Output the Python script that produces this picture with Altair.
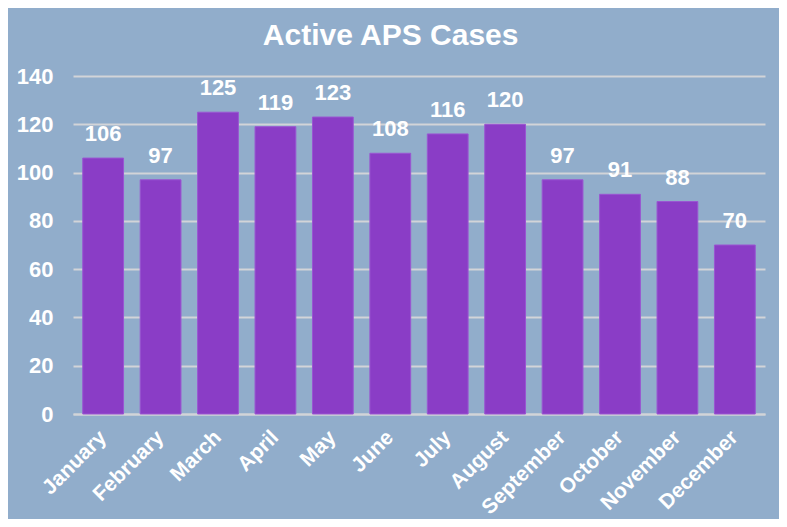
import altair as alt
import pandas as pd

months = ["January", "February", "March", "April", "May", "June", "July",
          "August", "September", "October", "November", "December"]
cases = [106, 97, 125, 119, 123, 108, 116, 120, 97, 91, 88, 70]
y_ticks = [0, 20, 40, 60, 80, 100, 120, 140]

df = pd.DataFrame({"month": months, "cases": cases})

FONT = "Liberation Sans"
BG = "#91ADCB"
BAR = "#8A3DC6"
WHITE = "#FFFFFF"
GRID = "#D2D4D8"

x = alt.X("month:N", sort=months, title=None,
          scale=alt.Scale(paddingInner=0.29, paddingOuter=0.17),
          axis=alt.Axis(labelAngle=-45, labelAlign="right", labelBaseline="middle",
                        labelFont=FONT, labelFontSize=21, labelFontWeight="bold",
                        labelColor=WHITE, labelPadding=20, ticks=False,
                        domain=True, domainColor=GRID, domainWidth=2, grid=False))
y = alt.Y("cases:Q", title=None,
          scale=alt.Scale(domain=[0, 140], nice=False),
          axis=alt.Axis(values=y_ticks, labelFont=FONT, labelFontSize=22,
                        labelFontWeight="bold", labelColor=WHITE, labelPadding=20,
                        ticks=False, domain=False, grid=True, gridColor=GRID,
                        gridWidth=2))

bars = alt.Chart(df).mark_bar(color=BAR, stroke="#9A55D2", strokeWidth=1).encode(x=x, y=y)
labels = alt.Chart(df).mark_text(baseline="bottom", dy=-12, font=FONT, fontSize=22,
                                 fontWeight="bold", color=WHITE).encode(
    x=alt.X("month:N", sort=months), y="cases:Q", text="cases:Q")

chart = alt.layer(bars, labels).properties(
    width=771, height=511,
    autosize=alt.AutoSizeParams(type="fit", contains="padding"),
    background=BG,
    padding={"left": 8, "top": 13, "right": 14, "bottom": 1},
    title=alt.TitleParams("Active APS Cases", font=FONT, fontSize=30,
                          fontWeight="bold", color=WHITE, anchor="middle",
                          frame="bounds", offset=14),
).configure_view(stroke=None)

chart.save("out.html", embed_options={"renderer": "svg", "actions": False})
